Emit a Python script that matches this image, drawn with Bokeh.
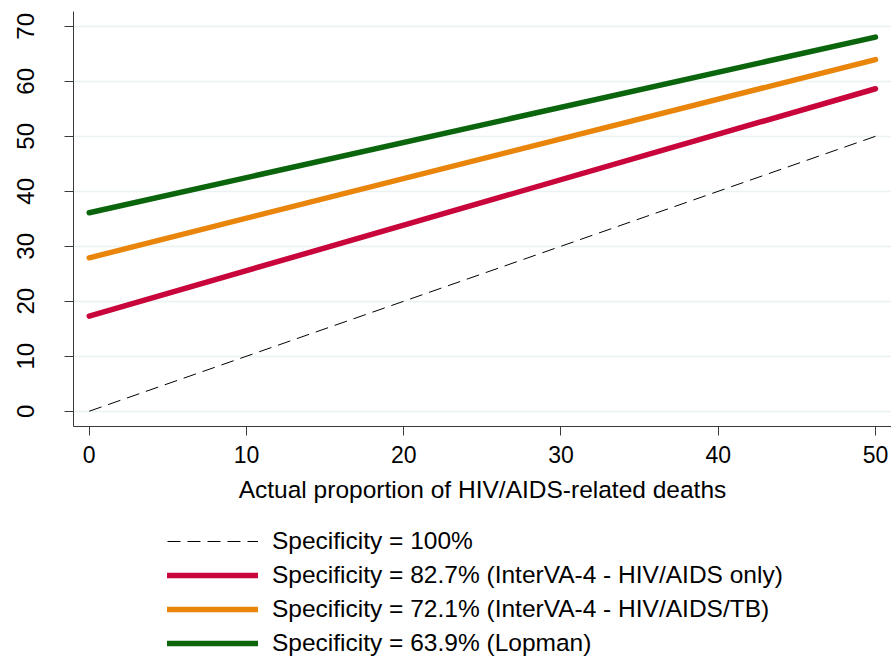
from bokeh.plotting import figure
from bokeh.models import Legend, LegendItem, Range1d, FixedTicker
from bokeh.layouts import column
from bokeh.embed import file_html
from bokeh.resources import INLINE

# ---- data ----
actual = [0, 50]
spec_100 = [0, 50]
spec_827 = [17.3, 58.65]
spec_721 = [27.9, 63.95]
spec_639 = [36.1, 68.05]
labels = [
    "Specificity = 100%",
    "Specificity = 82.7% (InterVA-4 - HIV/AIDS only)",
    "Specificity = 72.1% (InterVA-4 - HIV/AIDS/TB)",
    "Specificity = 63.9% (Lopman)",
]
x_ticks = [0, 10, 20, 30, 40, 50]
y_ticks = [0, 10, 20, 30, 40, 50, 60, 70]
x_title = "Actual proportion of HIV/AIDS-related deaths"

FONT = "Liberation Sans"
series = [spec_100, spec_827, spec_721, spec_639]
styles = [
    dict(line_color="black", line_width=1, line_dash="13 7"),
    dict(line_color="#c8063c", line_width=5.5, line_cap="round"),
    dict(line_color="#e8850a", line_width=5.5, line_cap="round"),
    dict(line_color="#0a650c", line_width=5.5, line_cap="round"),
]

# ---- main plot ----
p = figure(width=891, height=516,
           output_backend="svg", toolbar_location=None,
           x_range=Range1d(-1.0, 51.02), y_range=Range1d(-2.78, 72.7),
           min_border_left=73, min_border_right=0, min_border_top=11,
           min_border_bottom=90)
p.outline_line_color = None
p.background_fill_color = "white"
p.border_fill_color = "white"

for s, st in zip(series, styles):
    p.line(actual, s, **st)

for ax in (p.xaxis[0], p.yaxis[0]):
    ax.axis_line_color = "#3a3a3a"
    ax.major_tick_line_color = "#3a3a3a"
    ax.major_tick_in = 0
    ax.major_tick_out = 9
    ax.minor_tick_line_color = None
    ax.major_label_text_font = FONT
    ax.major_label_text_color = "black"
    ax.axis_label_text_font = FONT
    ax.axis_label_text_font_style = "normal"
    ax.axis_label_text_color = "black"

p.xaxis.ticker = FixedTicker(ticks=x_ticks)
p.yaxis.ticker = FixedTicker(ticks=y_ticks)
p.xaxis.major_label_text_font_size = "23px"
p.yaxis.major_label_text_font_size = "24px"
p.xaxis.major_label_standoff = 10
p.yaxis.major_label_standoff = 30
p.yaxis.major_label_orientation = "vertical"
p.xaxis.axis_label = x_title
p.xaxis.axis_label_text_font_size = "24.5px"
p.xaxis.axis_label_standoff = 10

p.xgrid.grid_line_color = None
p.ygrid.grid_line_color = "#eaf2f3"
p.ygrid.grid_line_width = 1.5

# ---- legend panel (same series, drawn outside its view so only the key shows) ----
q = figure(width=891, height=143, output_backend="svg", toolbar_location=None,
           x_range=Range1d(1000, 1001), y_range=Range1d(1000, 1001),
           x_axis_type=None, y_axis_type=None,
           min_border_left=0, min_border_right=0, min_border_top=0, min_border_bottom=0)
q.outline_line_color = None
q.xgrid.grid_line_color = None
q.ygrid.grid_line_color = None
rs = [q.line(actual, s, **st) for s, st in zip(series, styles)]

legend = Legend(items=[LegendItem(label=lab, renderers=[r]) for lab, r in zip(labels, rs)],
                location=(94, 0), orientation="vertical",
                label_text_font=FONT, label_text_font_size="24.5px", label_text_color="black",
                glyph_width=91, glyph_height=20, label_height=33, spacing=1,
                label_standoff=14, padding=0, margin=0,
                border_line_color=None, background_fill_alpha=0)
q.add_layout(legend, "center")

layout = column(p, q, spacing=0)
open("out.html", "w").write(file_html(layout, INLINE))
